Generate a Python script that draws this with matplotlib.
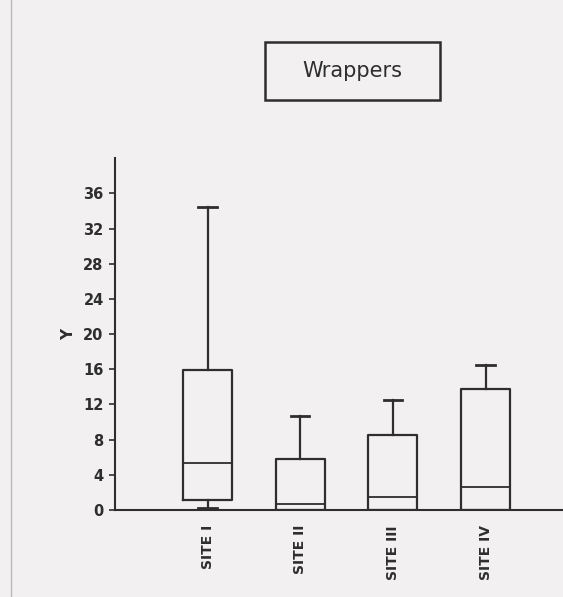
import matplotlib.pyplot as plt
from matplotlib.patches import Rectangle
from matplotlib.lines import Line2D

# Box statistics per site.
sites = ['SITE I', 'SITE II', 'SITE III', 'SITE IV']
whisker_low = [0.2, 0.0, 0.0, 0.0]
q1 = [1.1, 0.0, 0.0, 0.0]
medians = [5.3, 0.7, 1.5, 2.6]
q3 = [15.9, 5.8, 8.5, 13.8]
whisker_high = [34.4, 10.7, 12.5, 16.5]
y_ticks = list(range(0, 37, 4))

ink = '#2e2e2e'
paper = '#f2f0f0'

stats = []
for name, lo, a, m, b, hi in zip(sites, whisker_low, q1, medians, q3, whisker_high):
  stats.append(dict(label=name, whislo=lo, q1=a, med=m, q3=b, whishi=hi, fliers=[]))

fig = plt.figure(figsize=(5.63, 5.97), dpi=100, facecolor=paper)
ax = fig.add_axes([0.204, 0.146, 0.80, 0.589])
ax.set_facecolor(paper)

line_style = dict(color=ink, linewidth=1.6)
ax.bxp(stats, positions=[1, 2, 3, 4], widths=0.53, showfliers=False,
       boxprops=line_style, whiskerprops=line_style,
       capprops=dict(color=ink, linewidth=2.0),
       medianprops=dict(color=ink, linewidth=1.3),
       capwidths=0.2)

ax.set_xlim(-0.0, 4.86)
ax.set_ylim(0, 40)
ax.set_yticks(y_ticks)
ax.set_yticklabels([str(t) for t in y_ticks], fontsize=10.5, fontweight='bold', color=ink)
ax.set_xticks([1, 2, 3, 4])
ax.set_xticklabels(sites, rotation=90, fontsize=10, fontweight='bold', color=ink)
ax.tick_params(axis='x', length=0, pad=11)
ax.tick_params(axis='y', length=4, width=1.2, color=ink, pad=4)

for side in ['top', 'right']:
  ax.spines[side].set_visible(False)
for side in ['left', 'bottom']:
  ax.spines[side].set_color(ink)
  ax.spines[side].set_linewidth(1.5)

ax.set_ylabel('Y', fontsize=11, fontweight='bold', color=ink, labelpad=5)

# Legend-style title box.
fig.add_artist(Rectangle((0.471, 0.833), 0.311, 0.097, transform=fig.transFigure,
                         facecolor='none', edgecolor=ink, linewidth=1.8))
fig.text(0.626, 0.881, 'Wrappers', ha='center', va='center',
         fontsize=15, color=ink)

# Faint page edge on the left.
fig.add_artist(Line2D([0.02, 0.02], [0.0, 1.0], transform=fig.transFigure,
                      color='#b8b8b8', linewidth=1.0))

plt.savefig('out.png', dpi=100, facecolor=paper)
